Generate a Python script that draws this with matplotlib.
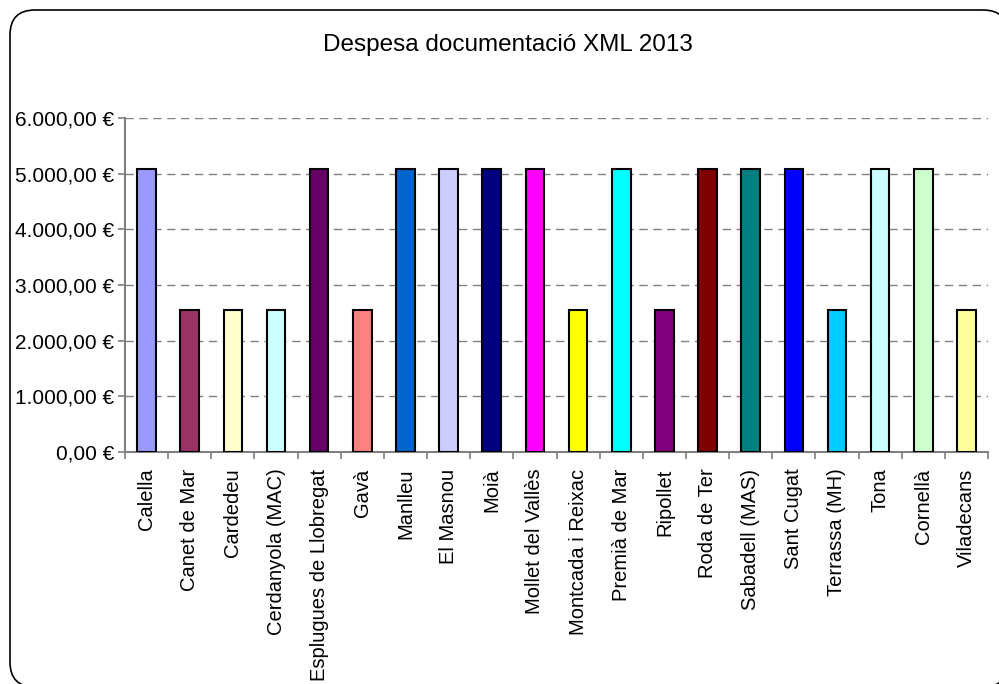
import numpy as np
import matplotlib
matplotlib.use("Agg")
import matplotlib.pyplot as plt
from matplotlib.patches import FancyBboxPatch
from matplotlib.ticker import FuncFormatter, FixedLocator

plt.rcParams['font.family'] = ['Liberation Sans', 'DejaVu Sans']

# data
towns = ["Calella", "Canet de Mar", "Cardedeu", "Cerdanyola (MAC)",
         "Esplugues de Llobregat", "Gavà", "Manlleu", "El Masnou", "Moià",
         "Mollet del Vallès", "Montcada i Reixac", "Premià de Mar", "Ripollet",
         "Roda de Ter", "Sabadell (MAS)", "Sant Cugat", "Terrassa (MH)", "Tona",
         "Cornellà", "Viladecans"]
spend = [5090, 2545, 2545, 2545, 5090, 2545, 5090, 5090, 5090, 5090,
         2545, 5090, 2545, 5090, 5090, 5090, 2545, 5090, 5090, 2545]
colors = ["#9999FF", "#993366", "#FFFFCC", "#CCFFFF", "#660066", "#FF8080",
          "#0066CC", "#CCCCFF", "#000080", "#FF00FF", "#FFFF00", "#00FFFF",
          "#800080", "#800000", "#008080", "#0000FF", "#00CCFF", "#CCFFFF",
          "#CCFFCC", "#FFFF99"]
title = "Despesa documentació XML 2013"

W, H = 999, 684
fig = plt.figure(figsize=(W / 100, H / 100), dpi=100)

# rounded chart frame (in inches so the corners stay round), runs off the right/bottom edge
frame = FancyBboxPatch((0.10, -0.03), 9.98, 6.77,
                       boxstyle="round,pad=0,rounding_size=0.25",
                       transform=fig.dpi_scale_trans, facecolor="white",
                       edgecolor="black", linewidth=1.2, zorder=1)
fig.patches.append(frame)

ax = fig.add_axes([125 / W, 1 - 452 / H, (988 - 125) / W, (452 - 118) / H])
ax.set_facecolor("none")
ax.set_zorder(2)

x = np.arange(len(towns))
ax.bar(x, spend, width=0.43, color=colors, edgecolor="black", linewidth=1.5, zorder=3)

ax.set_xlim(-0.5, len(towns) - 0.5)
ax.set_ylim(0, 6000)
ax.set_yticks(np.arange(0, 6001, 1000))

def euro(v, pos):
    s = f"{v:,.2f}".replace(",", "X").replace(".", ",").replace("X", ".")
    return s + " €"

ax.yaxis.set_major_formatter(FuncFormatter(euro))
ax.yaxis.grid(True, linestyle=(0, (6, 4)), color="#808080", linewidth=1.0)
ax.set_axisbelow(True)

ax.xaxis.set_major_locator(FixedLocator(np.arange(-0.5, len(towns), 1.0)))
ax.xaxis.set_major_formatter(FuncFormatter(lambda v, p: ""))
ax.xaxis.set_minor_locator(FixedLocator(x))
ax.set_xticklabels(towns, minor=True, rotation=90)
ax.tick_params(axis="x", which="minor", length=0, pad=12, labelsize=14.5)
ax.tick_params(axis="x", which="major", length=5, color="#808080", width=1.2)
ax.tick_params(axis="y", length=5, color="#808080", width=1.2, labelsize=15, pad=3)

for s in ["top", "right"]:
    ax.spines[s].set_visible(False)
for s in ["left", "bottom"]:
    ax.spines[s].set_color("#808080")
    ax.spines[s].set_linewidth(1.5)

fig.text(508 / W, 1 - 45 / H, title, ha="center", va="center", fontsize=17.5, zorder=5)

fig.savefig("out.png", dpi=100)
